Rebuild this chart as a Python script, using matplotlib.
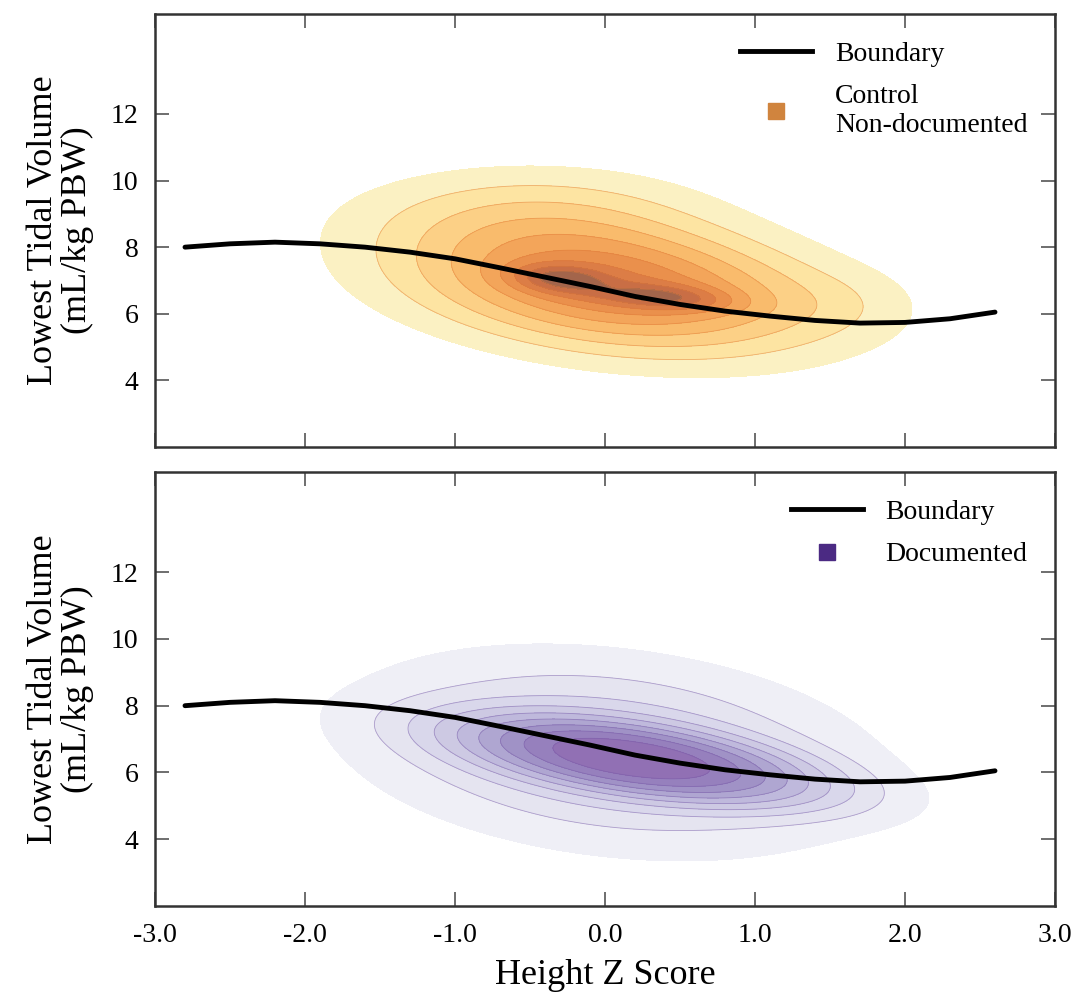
import numpy as np
import matplotlib.pyplot as plt
from matplotlib.lines import Line2D

plt.rcParams['font.family'] = ['Liberation Serif', 'DejaVu Serif']

# boundary curve (same in both panels)
boundary_x = [-2.8, -2.5, -2.2, -1.9, -1.6, -1.3, -1.0, -0.7, -0.4, -0.1,
              0.2, 0.5, 0.8, 1.1, 1.4, 1.7, 2.0, 2.3, 2.6]
boundary_y = [8.0, 8.1, 8.15, 8.1, 8.0, 7.85, 7.65, 7.38, 7.1, 6.82,
              6.52, 6.28, 6.08, 5.93, 5.8, 5.72, 5.74, 5.85, 6.05]

# each density is described by a few blobs estimated from the contours:
# peak height, centre x, centre y, sd x, sd y, correlation, flatness (1 = gaussian)
ctrl_amp = [0.8, 0.35, 0.33, 0.18, 0.06]
ctrl_mx = [0.05, -0.3, 0.4, -0.45, 1.6]
ctrl_my = [6.85, 7.05, 6.5, 9.2, 6.3]
ctrl_sx = [0.95, 0.22, 0.3, 0.8, 0.35]
ctrl_sy = [1.4, 0.3, 0.27, 1.0, 0.7]
ctrl_rho = [-0.3, -0.2, -0.3, 0.0, 0.0]
ctrl_pow = [1.0, 1.0, 1.0, 1.0, 1.0]

doc_amp = [0.6, 0.4]
doc_mx = [0.25, 0.05]
doc_my = [6.35, 6.6]
doc_sx = [0.9, 1.12]
doc_sy = [0.95, 1.95]
doc_rho = [-0.6, -0.25]
doc_pow = [1.3, 1.0]

ctrl_colors = ['#fbf1c3', '#fde4a2', '#fcd086', '#f9bb6c', '#f3a55a',
               '#ea904c', '#dc7d46', '#c96e45', '#a3654b']
doc_colors = ['#efeff6', '#e5e4f0', '#d9d7eb', '#cdc9e3', '#bfb9dc',
              '#afa6d1', '#a092c6', '#9680bd', '#9170b4']
ctrl_line = '#e07a35'
doc_line = '#7456a6'


def blobs(xx, yy, amp, mx, my, sx, sy, rho, pw):
    z = np.zeros_like(xx)
    for i in range(len(amp)):
        dx = (xx - mx[i]) / sx[i]
        dy = (yy - my[i]) / sy[i]
        q = (dx**2 - 2 * rho[i] * dx * dy + dy**2) / (1 - rho[i]**2)
        z += amp[i] * np.exp(-(0.5 * q) ** pw[i])
    return z


gx, gy = np.meshgrid(np.linspace(-3, 3, 300), np.linspace(2, 15, 500))
z_ctrl = blobs(gx, gy, ctrl_amp, ctrl_mx, ctrl_my, ctrl_sx, ctrl_sy, ctrl_rho, ctrl_pow)
z_doc = blobs(gx, gy, doc_amp, doc_mx, doc_my, doc_sx, doc_sy, doc_rho, doc_pow)

fig = plt.figure(figsize=(10.85, 10.02), dpi=100)
ax1 = fig.add_axes([155 / 1085, 1 - 447 / 1002, 900 / 1085, 433 / 1002])
ax2 = fig.add_axes([155 / 1085, 1 - 906 / 1002, 900 / 1085, 434 / 1002])

panels = [
    (ax1, z_ctrl, ctrl_colors, ctrl_line, '#d0843e', 'Control\nNon-documented'),
    (ax2, z_doc, doc_colors, doc_line, '#4b2a83', 'Documented'),
]

for ax, z, cols, lcol, sq, lab in panels:
    # ten equal steps of density, lowest one left blank
    lev = np.linspace(0, z.max() * 1.0001, 11)[1:]
    ax.contourf(gx, gy, z, levels=lev, colors=cols)
    ax.contour(gx, gy, z, levels=lev[1:-1], colors=lcol, linewidths=0.6, alpha=0.5)
    ax.plot(boundary_x, boundary_y, color='black', lw=3.5, solid_capstyle='round')

    ax.set_xlim(-3, 3)
    ax.set_ylim(2, 15)
    ax.set_xticks([-3, -2, -1, 0, 1, 2, 3])
    ax.set_yticks([4, 6, 8, 10, 12])
    ax.tick_params(direction='in', length=10, width=1.2, color='#555555',
                   top=True, right=True, labelsize=20, pad=12)
    for s in ax.spines.values():
        s.set_linewidth(1.8)
        s.set_color('#333333')
    ax.set_ylabel('Lowest Tidal Volume\n(mL/kg PBW)', fontsize=26, linespacing=1.05)
    ax.yaxis.set_label_coords(-0.068, 0.5)

    handles = [Line2D([], [], color='black', lw=3.5),
               Line2D([], [], color=sq, marker='s', ls='none', markersize=11)]
    ax.legend(handles, ['Boundary', lab], loc='upper right', frameon=False,
              fontsize=20, handlelength=2.6, borderaxespad=0.6, labelspacing=0.6)

ax1.tick_params(labelbottom=False)
ax2.set_xticklabels(['-3.0', '-2.0', '-1.0', '0.0', '1.0', '2.0', '3.0'])
ax2.set_xlabel('Height Z Score', fontsize=26, labelpad=8)

fig.savefig('out.png', dpi=100)
